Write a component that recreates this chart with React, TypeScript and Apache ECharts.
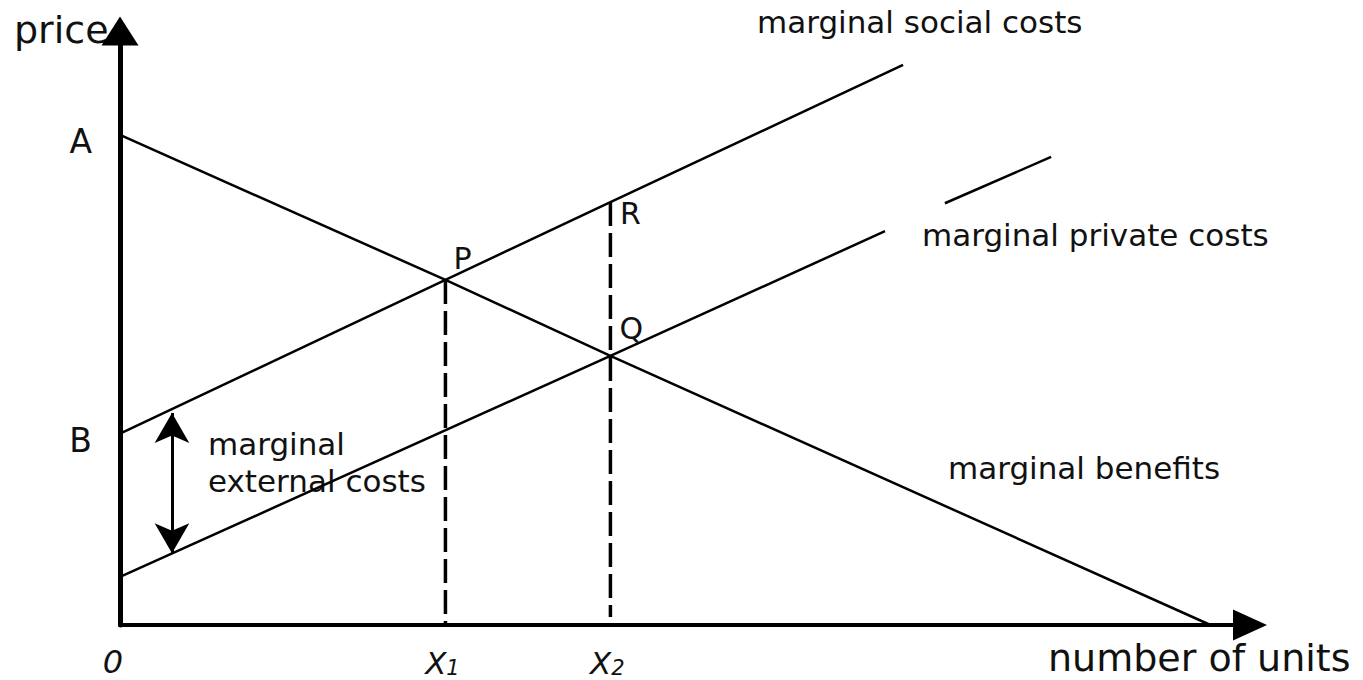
import React, { useEffect, useRef } from 'react';
import * as echarts from 'echarts';

// ---- data (value units of the chart's own axes) ----
const X_MAX = 100;
const Y_MAX = 100;

const priceA = 82.5; // intercept of marginal benefits
const priceB = 32.2; // intercept of marginal social costs
const mpcIntercept = 8.1; // intercept of marginal private costs

const qX1 = 28.8;
const qX2 = 43.4;

const pointP = [qX1, 58.1];
const pointQ = [qX2, 45.3];
const pointR = [qX2, 71.2];

const benefitsLine = [[0, priceA], pointP, pointQ, [96.5, 0]];
const socialCostsLine = [[0, priceB], pointP, pointR, [69.3, 94.3]];
const privateCostsLine = [[0, mpcIntercept], pointQ, [67.7, 66.3]];
const privateCostsTail = [[73.0, 71.0], [82.4, 78.8]];
const dropX1 = [pointP, [qX1, 0]];
const dropX2 = [pointR, [qX2, 1.35]];
const externalCostArrow = [[4.6, 35.7], [4.6, 12.1]];

const yTickValues = [priceA, priceB];
const yTickLabels = ['A', 'B'];
const xTickValues = [0, qX1, qX2];
const xTickLabels = ['{z|0}', '{x|X}{s|1}', '{x|X}{s|2}'];

const pointLabels = ['P', 'Q', 'R'];
const labelPoints = [pointP, pointQ, pointR];

const FONT = "'DejaVu Sans'";
const INK = '#111';

function findIdx(list: number[], v: number) {
  return list.findIndex((t) => Math.abs(t - v) < 1e-6);
}

export default function App() {
  const ref = useRef<HTMLDivElement>(null);

  useEffect(() => {
    if (!ref.current) return;
    const chart = echarts.init(ref.current, undefined, { renderer: 'svg' });

    const lineBase = {
      type: 'line',
      symbol: 'none',
      showSymbol: false,
      silent: true,
      z: 3,
      lineStyle: { color: '#000', width: 2.5 },
    };
    const dashStyle = { color: '#000', width: 3.5, type: [24, 7] };
    const labelOffsets = [
      [17, -21],
      [21, -27],
      [20, 11],
    ];

    const text = (t: string, x: number, y: number, size: number, align = 'left') => ({
      type: 'text',
      x,
      y,
      silent: true,
      style: {
        text: t,
        fill: INK,
        font: `${size}px ${FONT}`,
        textAlign: align,
        textVerticalAlign: 'middle',
        align,
        verticalAlign: 'middle',
      },
    });

    const option: any = {
      animation: false,
      backgroundColor: '#ffffff',
      grid: { left: 120, right: 113, top: 31, bottom: 55, containLabel: false, outerBoundsMode: 'none' },
      xAxis: {
        type: 'value',
        min: 0,
        max: X_MAX,
        splitLine: { show: false },
        axisTick: { show: false },
        axisLine: {
          show: true,
          onZero: false,
          symbol: ['none', 'triangle'],
          symbolSize: [31, 34],
          lineStyle: { color: '#000', width: 4 },
        },
        axisLabel: {
          show: true,
          customValues: xTickValues,
          margin: 22,
          color: INK,
          formatter: (v: number) => xTickLabels[findIdx(xTickValues, v)] ?? '',
          rich: {
            z: { fontSize: 32, lineHeight: 30, fontStyle: 'italic', fontFamily: FONT, color: INK, padding: [0, 14, 0, 0] },
            x: { fontSize: 31, fontStyle: 'italic', fontFamily: FONT, color: INK },
            s: { fontSize: 21, fontStyle: 'italic', fontFamily: FONT, color: INK, verticalAlign: 'bottom', padding: [0, 6, 0, 0] },
          },
        },
      },
      yAxis: {
        type: 'value',
        min: 0,
        max: Y_MAX,
        splitLine: { show: false },
        axisTick: { show: false },
        axisLine: {
          show: true,
          onZero: false,
          symbol: ['none', 'triangle'],
          symbolSize: [37, 29],
          lineStyle: { color: '#000', width: 5 },
        },
        axisLabel: {
          show: true,
          customValues: yTickValues,
          margin: 28,
          color: INK,
          fontSize: 33,
          fontFamily: FONT,
          verticalAlign: 'top',
          lineHeight: 14,
          formatter: (v: number) => yTickLabels[findIdx(yTickValues, v)] ?? '',
        },
      },
      series: [
        { ...lineBase, name: 'marginal benefits', data: benefitsLine },
        { ...lineBase, name: 'marginal social costs', data: socialCostsLine },
        { ...lineBase, name: 'marginal private costs', data: privateCostsLine },
        { ...lineBase, name: 'marginal private costs tail', data: privateCostsTail },
        { ...lineBase, name: 'x1 drop', data: dropX1, lineStyle: dashStyle },
        { ...lineBase, name: 'x2 drop', data: dropX2, lineStyle: dashStyle },
        {
          type: 'lines',
          coordinateSystem: 'cartesian2d',
          silent: true,
          z: 4,
          symbol: ['arrow', 'arrow'],
          symbolSize: [[26, 30], [26, 30]],
          lineStyle: { color: '#000', width: 3, opacity: 1 },
          data: [{ coords: externalCostArrow }],
        },
        {
          type: 'scatter',
          silent: true,
          symbolSize: 1,
          itemStyle: { color: 'rgba(0,0,0,0)' },
          z: 5,
          label: {
            show: true,
            position: 'inside',
            color: INK,
            opacity: 1,
            textBorderWidth: 0,
            textBorderColor: 'transparent',
            fontSize: 30,
            fontFamily: FONT,
            formatter: (p: any) => pointLabels[p.dataIndex],
          },
          data: labelPoints.map((pt, i) => ({ value: pt, label: { offset: labelOffsets[i] } })),
        },
      ],
      graphic: [
        text('price', 14, 30, 38),
        text('number of units', 1048, 658, 38),
        text('marginal social costs', 757, 22, 31),
        text('marginal private costs', 922, 235, 31),
        text('marginal benefits', 948, 468, 31),
        text('marginal', 208, 444, 31),
        text('external costs', 208, 481, 31),
      ],
    };

    chart.setOption(option);
    return () => chart.dispose();
  }, []);

  return (
    <div
      ref={ref}
      style={{ position: 'fixed', left: 0, top: 0, width: 1363, height: 680, background: '#fff' }}
    />
  );
}
